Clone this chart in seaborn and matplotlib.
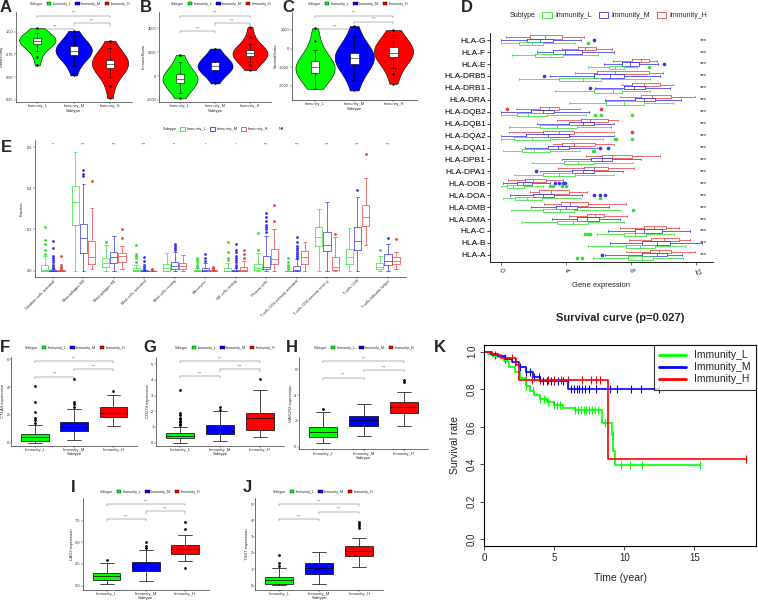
import numpy as np
import pandas as pd
import matplotlib
matplotlib.use("Agg")
import matplotlib.pyplot as plt
import seaborn as sns
from matplotlib.patches import Patch
from matplotlib.lines import Line2D

sns.set_theme(style="ticks")
plt.rcParams["font.family"] = ["Liberation Sans", "DejaVu Sans"]

# ------------------------------------------------------------------ data
subtypes = ["Immunity_L", "Immunity_M", "Immunity_H"]

# A-C : violin samples
purity_L = [0.63, 0.72, 0.79, 0.84, 0.87, 0.88, 0.89, 0.895, 0.90, 0.905, 0.91, 0.92, 0.93, 0.94, 0.96, 0.99, 1.04]
purity_M = [0.52, 0.62, 0.68, 0.72, 0.745, 0.76, 0.775, 0.785, 0.79, 0.80, 0.81, 0.825, 0.843, 0.87, 0.90, 0.95, 1.01]
purity_H = [0.27, 0.40, 0.50, 0.56, 0.60, 0.62, 0.63, 0.64, 0.645, 0.655, 0.665, 0.675, 0.689, 0.72, 0.76, 0.82, 0.90]
immune_L = [-1870, -1400, -1100, -850, -610, -480, -380, -300, -230, -150, -60, 60, 170, 450, 800, 1200, 1760]
immune_M = [-620, -100, 200, 380, 500, 600, 700, 780, 850, 920, 1000, 1100, 1200, 1400, 1650, 1950, 2300]
immune_H = [500, 900, 1200, 1450, 1670, 1750, 1810, 1860, 1890, 1940, 2000, 2080, 2170, 2350, 2700, 3300, 4100]
stromal_L = [-2170, -1800, -1600, -1450, -1330, -1230, -1150, -1070, -1000, -930, -860, -780, -690, -450, -100, 400, 1090]
stromal_M = [-2260, -1700, -1350, -1050, -820, -720, -640, -560, -490, -420, -350, -290, -220, -20, 250, 650, 1210]
stromal_H = [-1900, -1400, -1050, -700, -460, -380, -320, -270, -220, -160, -90, 0, 90, 280, 500, 750, 1000]
brackets_A = [1.026, 1.092, 1.176]
brackets_B = [3790, 4410, 5050]
brackets_C = [1030, 1450, 1770]

# D : HLA genes, box stats (low whisker, q1, median, q3, high whisker, outliers)
genes_D = ["HLA-G", "HLA-F", "HLA-E", "HLA-DRB5", "HLA-DRB1", "HLA-DRA", "HLA-DQB2", "HLA-DQB1",
           "HLA-DQA2", "HLA-DQA1", "HLA-DPB1", "HLA-DPA1", "HLA-DOB", "HLA-DOA", "HLA-DMB",
           "HLA-DMA", "HLA-C", "HLA-B", "HLA-A"]
sig_D = ["***"] * 19
hla_H = [(0.33, 1.8, 2.73, 3.75, 5.12, []), (3.75, 4.73, 5.18, 5.84, 6.82, []),
         (6.89, 8.05, 8.61, 9.08, 9.59, []), (4.53, 5.9, 7.03, 9.08, 9.96, []),
         (7.44, 8.05, 8.77, 9.8, 10.6, []), (7.3, 8.63, 9.28, 10.47, 11.95, []),
         (0.94, 2.38, 2.99, 3.59, 4.88, [0.37, 6.15]), (3.44, 4.92, 5.45, 6.56, 7.17, []),
         (0.53, 2.62, 3.59, 4.47, 6.93, [8.05]), (3.2, 3.75, 4.51, 5.8, 6.93, []),
         (5.25, 6.21, 6.82, 8.05, 9.8, []), (3.54, 5.08, 5.7, 6.58, 8.16, []),
         (0.47, 1.5, 2.0, 2.79, 3.85, []), (1.8, 2.34, 3.07, 4.22, 5.29, []),
         (2.66, 3.69, 4.26, 5.33, 7.7, []), (4.16, 5.29, 5.8, 6.31, 7.75, []),
         (7.34, 8.77, 9.39, 10.16, 10.92, []), (7.85, 9.24, 10.0, 10.92, 11.64, []),
         (7.68, 9.14, 9.69, 10.45, 11.95, [])]
hla_M = [(0.0, 1.64, 2.38, 3.2, 4.9, [5.7]), (2.21, 3.2, 3.95, 4.98, 6.93, []),
         (6.31, 7.44, 7.95, 8.46, 9.63, [10.05]), (3.03, 5.7, 6.68, 7.54, 9.8, [2.68]),
         (5.8, 7.54, 8.16, 8.83, 10.4, [5.45]), (6.41, 8.22, 8.77, 9.49, 11.07, []),
         (0.0, 1.84, 2.62, 3.28, 5.39, []), (2.25, 4.16, 5.04, 5.7, 6.93, []),
         (0.0, 1.56, 2.93, 4.22, 6.93, []), (1.5, 2.93, 3.54, 4.16, 5.9, [6.07, 6.56]),
         (3.75, 5.55, 6.21, 6.82, 8.6, []), (2.38, 4.36, 5.02, 5.7, 7.5, [2.15]),
         (0.12, 0.98, 1.39, 1.9, 3.03, [3.36, 3.6, 3.84, 3.95]), (0.57, 1.97, 2.62, 3.28, 4.98, [5.74, 6.07, 6.41]),
         (1.86, 3.4, 4.02, 4.71, 6.62, []), (3.13, 4.67, 5.29, 6.04, 7.34, []),
         (6.56, 8.26, 8.77, 9.9, 11.6, []), (6.68, 8.67, 9.59, 10.37, 12.36, []),
         (6.41, 8.67, 9.59, 10.2, 11.1, [6.2])]
hla_L = [(0.0, 1.15, 1.9, 2.62, 4.57, [5.35]), (0.68, 2.13, 3.03, 3.81, 5.94, []),
         (5.33, 6.62, 7.03, 7.54, 8.36, [9.08]), (1.15, 3.57, 5.04, 6.15, 9.18, []),
         (3.34, 5.74, 6.89, 7.44, 9.18, []), (4.22, 6.48, 7.54, 8.77, 10.57, []),
         (0.0, 0.98, 1.66, 2.83, 5.25, [5.8, 6.15, 8.05]), (0.53, 2.38, 3.48, 4.67, 6.76, []),
         (0.0, 0.82, 1.91, 3.03, 6.3, [7.0, 7.1, 8.05]), (0.12, 1.31, 2.05, 3.03, 4.88, [5.65, 5.75]),
         (1.9, 3.91, 4.73, 5.7, 8.11, []), (0.82, 2.62, 3.59, 4.53, 6.93, []),
         (0.0, 0.41, 0.78, 1.43, 2.6, [3.05, 3.2, 3.75, 4.0]), (0.12, 0.88, 1.6, 2.52, 4.9, [6.07]),
         (0.61, 2.62, 3.65, 4.51, 7.3, [8.11]), (1.29, 3.48, 4.43, 5.33, 7.58, []),
         (5.9, 7.58, 8.26, 8.93, 10.66, [5.2, 5.33, 5.5]), (5.35, 7.68, 8.57, 9.45, 11.33, []),
         (5.66, 7.8, 8.67, 9.35, 11.2, [4.67, 4.98])]

# E : immune cell fractions
cells_E = ["Dendritic cells activated", "Macrophages M0", "Macrophages M1", "Mast cells activated",
           "Mast cells resting", "Monocytes", "NK cells resting", "Plasma cells",
           "T cells CD4 memory activated", "T cells CD4 memory resting", "T cells CD8",
           "T cells follicular helper"]
sig_E = ["**", "***", "***", "***", "**", "*", "*", "***", "***", "***", "***", "***"]
frac_L = [(0, 0, 0.004, 0.028, 0.07, [0.08, 0.10, 0.13, 0.15, 0.21]), (0.0, 0.222, 0.332, 0.413, 0.578, []),
          (0.0, 0.016, 0.037, 0.06, 0.125, [0.14]), (0, 0, 0.002, 0.011, 0.027, [0.04, 0.06, 0.07, 0.08, 0.125]),
          (0, 0, 0.015, 0.035, 0.085, []), (0, 0, 0, 0.005, 0.012, [0.02, 0.03, 0.04, 0.05, 0.06]),
          (0, 0, 0, 0.015, 0.037, [0.05, 0.06, 0.09, 0.14]), (0, 0.002, 0.012, 0.035, 0.084, [0.1, 0.185]),
          (0, 0, 0, 0, 0, [0.01, 0.02, 0.03, 0.04, 0.06]), (0, 0.12, 0.162, 0.214, 0.30, []),
          (0, 0.035, 0.065, 0.103, 0.205, []), (0, 0.006, 0.019, 0.037, 0.071, [0.1])]
frac_M = [(0, 0, 0, 0.003, 0.007, [0.015, 0.02, 0.03, 0.04, 0.05, 0.06, 0.07, 0.11, 0.145]),
          (0, 0.087, 0.16, 0.226, 0.42, [0.46, 0.47, 0.49]), (0, 0.039, 0.068, 0.093, 0.17, []),
          (0, 0, 0, 0.002, 0.005, [0.01, 0.02, 0.03, 0.045, 0.065]), (0, 0.01, 0.022, 0.043, 0.09, [0.1, 0.11, 0.12, 0.13]),
          (0, 0, 0.005, 0.015, 0.037, [0.045, 0.06, 0.08]),
          (0, 0, 0, 0.005, 0.012, [0.02, 0.03, 0.04, 0.05, 0.06, 0.07, 0.09, 0.1, 0.13]),
          (0, 0.006, 0.017, 0.071, 0.168, [0.19, 0.2, 0.21, 0.22, 0.24, 0.26, 0.28]),
          (0, 0, 0.005, 0.022, 0.055, [0.06, 0.07, 0.08, 0.09, 0.1, 0.11, 0.12, 0.14, 0.162]),
          (0, 0.094, 0.125, 0.19, 0.334, []), (0, 0.10, 0.146, 0.214, 0.356, [0.392]),
          (0, 0.03, 0.046, 0.08, 0.13, [0.16])]
frac_H = [(0, 0, 0, 0.002, 0.005, [0.01, 0.02, 0.03, 0.07]), (0.01, 0.031, 0.065, 0.144, 0.303, [0.437]),
          (0.01, 0.044, 0.07, 0.088, 0.12, [0.16, 0.2]), (0, 0, 0, 0.001, 0.002, [0.005, 0.01]),
          (0, 0.01, 0.025, 0.037, 0.075, []), (0, 0, 0, 0.002, 0.005, [0.01, 0.015, 0.02]),
          (0, 0, 0.005, 0.018, 0.045, [0.06, 0.08, 0.1]), (0, 0.035, 0.055, 0.103, 0.2, [0.24, 0.32]),
          (0, 0.035, 0.068, 0.097, 0.14, []), (0, 0.003, 0.018, 0.068, 0.165, [0.18]),
          (0.125, 0.217, 0.262, 0.319, 0.45, [0.567]), (0.01, 0.035, 0.045, 0.065, 0.09, [0.155])]

# F-J : checkpoint genes
ctla4 = {"Immunity_L": (0, 0.12, 0.39, 0.6, 1.3, [1.45, 1.6, 1.75, 2.2, 2.9, 4.05]),
         "Immunity_M": (0.2, 0.84, 1.15, 1.49, 2.45, [2.6, 2.8, 2.95, 4.55]),
         "Immunity_H": (1.2, 1.83, 2.16, 2.55, 3.4, [3.7])}
cd274 = {"Immunity_L": (0, 0.28, 0.4, 0.58, 1.02, [1.1, 1.2, 1.3, 1.4, 1.5, 1.6, 1.75, 1.9, 3.35]),
         "Immunity_M": (0.12, 0.52, 0.77, 1.12, 2.0, [2.1, 2.25]),
         "Immunity_H": (0.36, 0.83, 1.54, 1.86, 3.35, [4.05])}
havcr2 = {"Immunity_L": (0.26, 0.78, 1.14, 1.55, 2.65, [2.95]),
          "Immunity_M": (0.8, 1.6, 2.05, 2.38, 3.3, []),
          "Immunity_H": (1.6, 2.59, 3.05, 3.44, 4.2, [5.0, 5.15])}
lag3 = {"Immunity_L": (0.15, 0.69, 1.14, 1.45, 2.55, [2.93]),
        "Immunity_M": (0.5, 1.71, 2.17, 2.67, 4.1, [4.38, 4.55, 5.02]),
        "Immunity_H": (2.8, 3.62, 4.27, 4.65, 5.82, [1.98, 6.55, 7.3])}
tigit = {"Immunity_L": (0.05, 0.12, 0.32, 0.53, 1.1, [1.2, 1.4, 1.85]),
         "Immunity_M": (0.12, 0.73, 1.08, 1.38, 2.05, []),
         "Immunity_H": (1.15, 1.83, 2.13, 2.44, 2.9, [3.55, 3.65, 3.75, 3.88])}
brackets_F = [4.75, 5.3, 5.88]
brackets_G = [4.25, 4.68, 5.2]
brackets_H = [5.35, 5.95, 6.64]
brackets_I = [7.7, 8.56, 9.4]
brackets_J = [4.07, 4.53, 5.0]

# K : Kaplan-Meier curves
km_L_t = [0, 0.3, 0.6, 1.0, 1.4, 1.8, 2.2, 2.6, 3.0, 3.3, 3.6, 4.0, 4.5, 5.0, 5.6, 6.5, 8.45, 9.14, 9.21, 9.31, 15.4]
km_L_s = [1.0, 0.99, 0.98, 0.97, 0.95, 0.92, 0.89, 0.86, 0.82, 0.79, 0.77, 0.75, 0.73, 0.715, 0.70, 0.69, 0.62, 0.556, 0.472, 0.396, 0.396]
km_M_t = [0, 0.5, 1.0, 1.5, 2.0, 2.5, 3.0, 3.5, 4.0, 6.0, 12.5]
km_M_s = [1.0, 0.99, 0.975, 0.96, 0.945, 0.92, 0.89, 0.865, 0.846, 0.80, 0.80]
km_H_t = [0, 0.6, 1.2, 2.26, 2.5, 8.81, 18.7]
km_H_s = [1.0, 0.985, 0.965, 0.93, 0.85, 0.426, 0.426]
cens_L = [3.0, 3.5, 4.0, 4.3, 4.6, 5.0, 5.2, 5.4, 6.5, 6.7, 6.9, 7.1, 7.3, 7.5, 7.7, 7.9, 8.1, 8.6, 9.2, 9.8, 10.4, 11.3, 15.4]
cens_M = [1.5, 2.2, 2.6, 3.0, 3.3, 3.6, 3.9, 4.2, 4.5, 4.8, 5.0, 5.3, 5.6, 6.2, 6.4, 6.6, 6.8, 7.0, 7.2, 7.5, 8.0, 9.0, 9.5, 10.5, 11.2, 12.5]
cens_H = [0.8, 1.5, 2.0, 3.0, 3.4, 4.0, 4.6, 5.0, 5.5, 6.0, 7.0, 7.6, 8.0, 8.3, 18.7]

# ------------------------------------------------------------------ style
FILL = {"Immunity_L": "#00FF00", "Immunity_M": "#0000FF", "Immunity_H": "#FF0000"}
LINE = {"Immunity_L": "#33E033", "Immunity_M": "#3535EE", "Immunity_H": "#EE4040"}
W, H = 758, 601
fig = plt.figure(figsize=(W / 100, H / 100), dpi=100)


def add_ax(x0, y0, x1, y1):
    return fig.add_axes([x0 / W, 1 - y1 / H, (x1 - x0) / W, (y1 - y0) / H])


def expand(st):
    lo, q1, med, q3, hi, out = st
    iqr = q3 - q1
    lo = max(lo, q1 - 1.5 * iqr)
    hi = min(hi, q3 + 1.5 * iqr)
    return [lo] + [q1] * 12 + [med] * 12 + [q3] * 12 + [hi] + list(out)


def style_small(ax, fs=2.8):
    sns.despine(ax=ax)
    ax.tick_params(labelsize=fs, length=1.2, width=0.3, pad=0.6, colors="#333333")
    for s in ["left", "bottom"]:
        ax.spines[s].set_linewidth(0.4)
        ax.spines[s].set_color("black")


def brackets(ax, heights, fs=2.6):
    y0, y1 = ax.get_ylim()
    tip = 0.025 * (y1 - y0)
    for (a, b), h in zip([(0, 1), (1, 2), (0, 2)], heights):
        ax.plot([a, a, b, b], [h - tip, h, h, h - tip], color="#555555", lw=0.3)
        ax.text((a + b) / 2, h + 0.006 * (y1 - y0), "***", ha="center", va="bottom", fontsize=fs, color="#555555")


def top_legend(ax, cx, cy, handles, labels, fs=2.6, hl=1.2):
    title_h = Patch(facecolor="none", edgecolor="none")
    ax.legend([title_h] + handles, ["Subtype"] + labels, loc="center", ncol=len(handles) + 1,
              bbox_to_anchor=(cx / W, 1 - cy / H), bbox_transform=fig.transFigure, frameon=False,
              fontsize=fs, handlelength=hl, handleheight=1.0, handletextpad=0.4, columnspacing=1.0,
              borderpad=0)


def letter(x, y, s):
    fig.text(x / W, 1 - y / H, s, fontsize=12, fontweight="bold", ha="center", va="center")


filled_handles = [Patch(facecolor=FILL[g], edgecolor="black", linewidth=0.3) for g in subtypes]
hollow_handles = [Patch(facecolor="white", edgecolor=LINE[g], linewidth=0.6) for g in subtypes]

# ------------------------------------------------------------------ A-C violins
violin_sets = [
    ("A", (15.5, 12, 131.8, 101.7), {"Immunity_L": purity_L, "Immunity_M": purity_M, "Immunity_H": purity_H},
     "TumorPurity", [0.25, 0.5, 0.75, 1.0], ["0.25", "0.50", "0.75", "1.00"], (0.231, 1.216), brackets_A, (6, 7), (77, 3.5)),
    ("B", (159, 12, 271, 101.7), {"Immunity_L": immune_L, "Immunity_M": immune_M, "Immunity_H": immune_H},
     "ImmuneScore", [-2000, 0, 2000, 4000], ["-2000", "0", "2000", "4000"], (-2150, 5360), brackets_B, (146, 7), (218, 3.5)),
    ("C", (291.5, 12, 417, 100), {"Immunity_L": stromal_L, "Immunity_M": stromal_M, "Immunity_H": stromal_H},
     "StromalScore", [-2000, -1000, 0, 1000], ["-2000", "-1000", "0", "1000"], (-2777, 1970), brackets_C, (288, 7), (355, 3.5)),
]
for lab, rect, dd, ylab, yt, ytl, ylim, br, lpos, legpos in violin_sets:
    ax = add_ax(*rect)
    df = pd.DataFrame([(g, v) for g in subtypes for v in dd[g]], columns=["Subtype", "val"])
    sns.violinplot(data=df, x="Subtype", y="val", hue="Subtype", order=subtypes, hue_order=subtypes,
                   palette=FILL, saturation=1, cut=0, inner=None, linewidth=0.4, linecolor="black",
                   width=1.0, bw_adjust=1.4, legend=False, ax=ax)
    sns.boxplot(data=df, x="Subtype", y="val", order=subtypes, color="white", saturation=1, width=0.22,
                linewidth=0.4, linecolor="black", fliersize=0.8,
                flierprops=dict(marker="o", markerfacecolor="black", markeredgecolor="black"), ax=ax)
    ax.set_xlim(-0.6, 2.6)
    ax.set_ylim(*ylim)
    ax.set_yticks(yt)
    ax.set_yticklabels(ytl)
    ax.set_ylabel(ylab, fontsize=3, labelpad=1)
    ax.set_xlabel("Subtype", fontsize=3, labelpad=0.5)
    style_small(ax)
    brackets(ax, br)
    top_legend(ax, legpos[0], legpos[1], filled_handles, subtypes)
    letter(lpos[0], lpos[1], lab)

# ------------------------------------------------------------------ D HLA genes
axD = add_ax(490, 33, 713, 262)
rowsD = []
for gi, gene in enumerate(genes_D):
    for g, stats in zip(subtypes, [hla_L, hla_M, hla_H]):
        rowsD += [(gene, g, v) for v in expand(stats[gi])]
dfD = pd.DataFrame(rowsD, columns=["gene", "Subtype", "val"])
sns.boxplot(data=dfD, y="gene", x="val", hue="Subtype", order=genes_D,
            hue_order=["Immunity_H", "Immunity_M", "Immunity_L"], palette=LINE, fill=False,
            orient="h", width=0.8, gap=0, linewidth=0.55, fliersize=1.6,
            flierprops=dict(marker="o"), legend=False, ax=axD)
for ln in axD.lines:
    if ln.get_marker() == "o":
        ln.set_markerfacecolor(ln.get_markeredgecolor())
axD.set_ylim(18.6, -0.6)
axD.set_xlim(-0.66, 13.03)
axD.set_xticks([0, 4, 8, 12])
axD.set_xticklabels(["0", "4", "8", "12"], rotation=-70, ha="center")
sns.despine(ax=axD)
axD.tick_params(axis="y", labelsize=6, length=2, width=0.5, pad=1, colors="black")
axD.tick_params(axis="x", labelsize=5, length=2, width=0.5, pad=2, colors="#333333")
for s in ["left", "bottom"]:
    axD.spines[s].set_linewidth(0.6)
    axD.spines[s].set_color("black")
axD.set_ylabel("")
axD.set_xlabel("Gene expression", fontsize=5.5, labelpad=3)
for i, s in enumerate(sig_D):
    axD.text(12.47, i, s, fontsize=4.5, ha="center", va="center")
top_legend(axD, 602, 15.7, hollow_handles, subtypes, fs=5, hl=1.4)
letter(467, 7, "D")

# ------------------------------------------------------------------ E immune cells
axE = add_ax(34.7, 140, 406.2, 276.7)
rowsE = []
for ci, cell in enumerate(cells_E):
    for g, stats in zip(subtypes, [frac_L, frac_M, frac_H]):
        rowsE += [(cell, g, v) for v in expand(stats[ci])]
dfE = pd.DataFrame(rowsE, columns=["cell", "Subtype", "val"])
sns.boxplot(data=dfE, x="cell", y="val", hue="Subtype", order=cells_E, hue_order=subtypes,
            palette=LINE, fill=False, width=0.8, gap=0.12, linewidth=0.5, fliersize=1.0,
            flierprops=dict(marker="o"), legend=False, ax=axE)
for ln in axE.lines:
    if ln.get_marker() == "o":
        ln.set_markerfacecolor(ln.get_markeredgecolor())
axE.set_xlim(-0.6, 11.6)
axE.set_ylim(-0.029, 0.634)
axE.set_yticks([0, 0.2, 0.4, 0.6])
axE.set_yticklabels(["0.0", "0.2", "0.4", "0.6"])
style_small(axE)
axE.set_xticks(range(len(cells_E)))
axE.set_xticklabels(cells_E, rotation=45, ha="right", rotation_mode="anchor")
axE.set_xlabel("")
axE.set_ylabel("Fraction", fontsize=3, labelpad=2)
for i, s in enumerate(sig_E):
    axE.text(i, 0.612, s, fontsize=2.6, ha="center", va="center", color="#333333")
top_legend(axE, 220, 129.3, hollow_handles + [Patch(facecolor="none", edgecolor="none")],
           subtypes + ["NA"], fs=2.8)
letter(6, 147, "E")

# ------------------------------------------------------------------ F-J checkpoint boxes
box_sets = [
    ("F", (11.4, 357, 137, 445.7), ctla4, "CTLA4 expression", [0, 2, 4, 6], (-0.22, 6.17), brackets_F, (5, 347), (72, 348)),
    ("G", (156, 357, 284, 446), cd274, "CD274 expression", [0, 1, 2, 3, 4, 5], (-0.22, 5.47), brackets_G, (150, 347), (222, 348)),
    ("H", (299.1, 357, 428, 449), havcr2, "HAVCR2 expression", [0, 2, 4, 6], (-0.18, 6.95), brackets_H, (292, 347), (361, 348)),
    ("I", (83.2, 498, 208.5, 589.5), lag3, "LAG3 expression", [0, 2.5, 5.0, 7.5], (-0.46, 10.1), brackets_I, (73, 487), (147, 491.7)),
    ("J", (255.3, 498, 383.3, 589.5), tigit, "TIGIT expression", [0, 1, 2, 3, 4, 5], (-0.24, 5.37), brackets_J, (247, 487), (320, 491.7)),
]
for lab, rect, dd, ylab, yt, ylim, br, lpos, legpos in box_sets:
    ax = add_ax(*rect)
    df = pd.DataFrame([(g, v) for g in subtypes for v in expand(dd[g])], columns=["Subtype", "val"])
    sns.boxplot(data=df, x="Subtype", y="val", hue="Subtype", order=subtypes, hue_order=subtypes,
                palette=FILL, saturation=1, width=0.7, linewidth=0.5, linecolor="black", fliersize=1.0,
                flierprops=dict(marker="o", markerfacecolor="black", markeredgecolor="black"),
                legend=False, ax=ax)
    ax.set_xlim(-0.6, 2.6)
    ax.set_ylim(*ylim)
    ax.set_yticks(yt)
    if lab == "I":
        ax.set_yticklabels(["0.0", "2.5", "5.0", "7.5"])
    ax.set_ylabel(ylab, fontsize=3, labelpad=1)
    ax.set_xlabel("Subtype", fontsize=3, labelpad=0)
    style_small(ax, fs=3.0)
    brackets(ax, br)
    top_legend(ax, legpos[0], legpos[1], filled_handles, subtypes)
    letter(lpos[0], lpos[1], lab)

# ------------------------------------------------------------------ K survival
axK = add_ax(484, 345, 756, 546)
km = {"Immunity_L": (km_L_t, km_L_s, cens_L), "Immunity_M": (km_M_t, km_M_s, cens_M),
      "Immunity_H": (km_H_t, km_H_s, cens_H)}
KMCOL = {"Immunity_L": "#00FF00", "Immunity_M": "#0000FF", "Immunity_H": "#FF0000"}
dfK = pd.DataFrame([(g, t, s) for g in subtypes for t, s in zip(km[g][0], km[g][1])],
                   columns=["Subtype", "time", "surv"])
for g in subtypes:
    sub = dfK[dfK["Subtype"] == g]
    sns.lineplot(data=sub, x="time", y="surv", color=KMCOL[g], estimator=None, sort=False,
                 drawstyle="steps-post", linewidth=1.2, ax=axK)
    t_arr, s_arr, cens = km[g]
    idx = np.searchsorted(np.array(t_arr), np.array(cens), side="right") - 1
    sns.scatterplot(x=cens, y=np.array(s_arr)[idx], marker="|", s=28, color=KMCOL[g],
                    linewidth=0.8, ax=axK, legend=False)
axK.set_xlim(0, 19.4)
axK.set_ylim(-0.036, 1.036)
axK.set_xticks([0, 5, 10, 15])
axK.set_yticks([0, 0.2, 0.4, 0.6, 0.8, 1.0])
axK.set_yticklabels(["0.0", "0.2", "0.4", "0.6", "0.8", "1.0"], rotation=90, va="center")
for s in axK.spines.values():
    s.set_visible(True)
    s.set_linewidth(0.8)
    s.set_color("black")
axK.tick_params(labelsize=7, length=3, width=0.6, pad=2)
axK.set_xlabel("Time (year)", fontsize=7.5, labelpad=7)
axK.set_ylabel("Survival rate", fontsize=7.5, labelpad=5)
axK.set_title("Survival curve (p=0.027)", fontsize=8, fontweight="bold", pad=17)
legK = axK.legend([Line2D([], [], color=KMCOL[g], lw=2) for g in subtypes], subtypes,
                  loc="upper right", fontsize=7.5, frameon=True, fancybox=False, borderaxespad=0,
                  handlelength=2.6, labelspacing=0.2, borderpad=0.5)
legK.get_frame().set_edgecolor("black")
legK.get_frame().set_linewidth(0.8)
letter(440, 347, "K")

fig.savefig("out.png", dpi=100)
